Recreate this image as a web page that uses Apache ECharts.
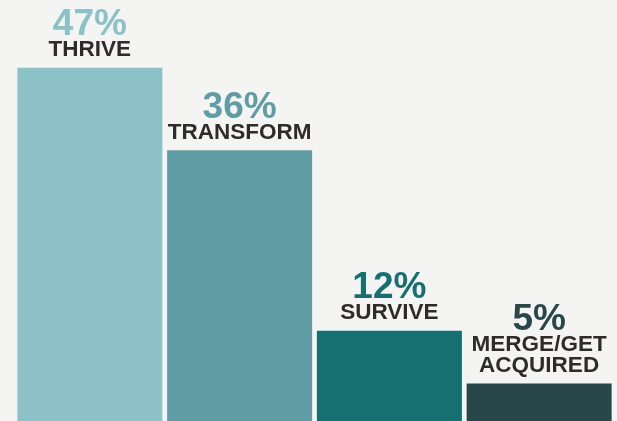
<!DOCTYPE html>
<html lang="en">
  <head>
    <meta charset="UTF-8" />
    <title>Thrive / Transform / Survive</title>
    <style>
      html, body { margin: 0; padding: 0; background: #f4f4f2; }
    </style>
  </head>
  <body>
    <div id="main" style="width: 617px; height: 421px"></div>
    <script src="https://cdn.jsdelivr.net/npm/echarts@6.0.0/dist/echarts.min.js"></script>
    <script>
      const categories = ["THRIVE", "TRANSFORM", "SURVIVE", "MERGE/GET\nACQUIRED"];
      const values = [47, 36, 12, 5];
      const colors = ["#8bc1c7", "#609ca4", "#167072", "#29474b"];

      const font = "'Liberation Sans', Arial, sans-serif";
      const rich = {
        n: {
          fontSize: 22.5,
          fontWeight: "bold",
          lineHeight: 21,
          color: "#2f2b29",
          fontFamily: font,
        },
      };
      colors.forEach(function (c, i) {
        rich["p" + i] = {
          fontSize: 37,
          fontWeight: "bold",
          lineHeight: 30,
          color: c,
          fontFamily: font,
        };
      });

      var myChart = echarts.init(document.getElementById("main"));
      myChart.setOption({
        backgroundColor: "#f4f4f2",
        animation: false,
        grid: { left: 15, right: 3, top: 0, bottom: 0 },
        xAxis: {
          type: "category",
          data: categories,
          show: false,
        },
        yAxis: {
          type: "value",
          min: 0,
          max: 56,
          show: false,
        },
        series: [
          {
            type: "bar",
            barWidth: 145,
            data: values.map(function (v, i) {
              return { value: v, itemStyle: { color: colors[i] } };
            }),
            label: {
              show: true,
              position: "top",
              distance: 7,
              formatter: function (p) {
                const names = categories[p.dataIndex].split("\n");
                return (
                  "{p" + p.dataIndex + "|" + p.value + "%}\n" +
                  names.map(function (n) { return "{n|" + n + "}"; }).join("\n")
                );
              },
              rich: rich,
            },
          },
        ],
      });
    </script>
  </body>
</html>
